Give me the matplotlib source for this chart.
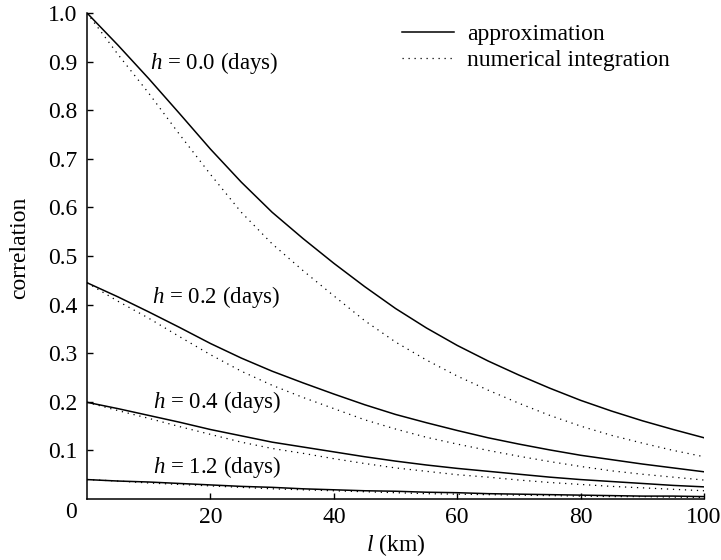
import matplotlib
matplotlib.use("Agg")
import matplotlib.pyplot as plt

plt.rcParams["font.family"] = ["Liberation Serif", "DejaVu Serif"]
plt.rcParams["mathtext.fontset"] = "custom"
plt.rcParams["mathtext.rm"] = "Liberation Serif"
plt.rcParams["mathtext.it"] = "Liberation Serif:italic"

# distance l (km)
dist = [0, 5, 10, 15, 20, 25, 30, 35, 40, 45, 50,
        55, 60, 65, 70, 75, 80, 85, 90, 95, 100]

# approximation (solid)
approx_h00 = [1.000, 0.934, 0.865, 0.793, 0.720, 0.652, 0.590, 0.536, 0.485, 0.437, 0.392,
              0.352, 0.316, 0.284, 0.255, 0.228, 0.203, 0.181, 0.161, 0.143, 0.126]
approx_h02 = [0.445, 0.416, 0.385, 0.353, 0.320, 0.290, 0.263, 0.239, 0.216, 0.194, 0.174,
              0.157, 0.141, 0.126, 0.113, 0.101, 0.090, 0.081, 0.072, 0.064, 0.056]
approx_h04 = [0.199, 0.186, 0.172, 0.158, 0.143, 0.130, 0.117, 0.107, 0.097, 0.087, 0.078,
              0.070, 0.063, 0.057, 0.051, 0.045, 0.040, 0.036, 0.032, 0.028, 0.025]
approx_h12 = [0.040, 0.037, 0.035, 0.032, 0.029, 0.026, 0.024, 0.021, 0.019, 0.017, 0.016,
              0.014, 0.013, 0.011, 0.010, 0.009, 0.008, 0.007, 0.006, 0.006, 0.005]

# numerical integration (dotted)
numint_h00 = [1.000, 0.915, 0.835, 0.750, 0.668, 0.590, 0.525, 0.470, 0.418, 0.367, 0.323,
              0.286, 0.253, 0.224, 0.197, 0.172, 0.150, 0.131, 0.115, 0.100, 0.087]
numint_h02 = [0.445, 0.407, 0.372, 0.334, 0.297, 0.263, 0.234, 0.209, 0.186, 0.163, 0.144,
              0.127, 0.113, 0.100, 0.088, 0.077, 0.067, 0.058, 0.051, 0.045, 0.039]
numint_h04 = [0.199, 0.182, 0.166, 0.149, 0.133, 0.117, 0.104, 0.094, 0.083, 0.073, 0.064,
              0.057, 0.050, 0.045, 0.039, 0.034, 0.030, 0.026, 0.023, 0.020, 0.017]
numint_h12 = [0.040, 0.037, 0.033, 0.030, 0.027, 0.024, 0.021, 0.019, 0.017, 0.015, 0.013,
              0.011, 0.010, 0.009, 0.008, 0.007, 0.006, 0.005, 0.005, 0.004, 0.003]

h_labels = ["0.0", "0.2", "0.4", "1.2"]
label_pos = [(10.2, 0.897), (10.5, 0.416), (10.7, 0.200), (10.7, 0.065)]

xticks = [20, 40, 60, 80, 100]
yticks = [0.1, 0.2, 0.3, 0.4, 0.5, 0.6, 0.7, 0.8, 0.9, 1.0]

FS = 17
dot_style = (0, (1, 3.8))

fig = plt.figure(figsize=(7.21, 5.60), dpi=100)
ax = fig.add_axes([0.1207, 0.1089, 0.8558, 0.8679])

approx = [approx_h00, approx_h02, approx_h04, approx_h12]
numint = [numint_h00, numint_h02, numint_h04, numint_h12]
for i, (a, n) in enumerate(zip(approx, numint)):
    ax.plot(dist, a, color="black", lw=1.1,
            label="approximation" if i == 0 else None)
    ax.plot(dist, n, color="black", lw=0.9, ls=dot_style,
            label="numerical integration" if i == 0 else None)

for h, (x, y) in zip(h_labels, label_pos):
    ax.text(x, y, f"$h$ = {h} (days)", fontsize=FS - 0.5, ha="left", va="center")

ax.set_xlim(0, 100)
ax.set_ylim(0, 1.0)
ax.spines["top"].set_visible(False)
ax.spines["right"].set_visible(False)
ax.spines["left"].set_linewidth(1.1)
ax.spines["bottom"].set_linewidth(1.1)

ax.set_xticks(xticks)
ax.set_yticks(yticks)
ax.set_yticklabels([f"{v:.1f}" for v in yticks])
ax.tick_params(direction="in", length=4, width=1.0, labelsize=FS)
ax.tick_params(axis="y", pad=7)
ax.tick_params(axis="x", pad=6)
ax.annotate("0", xy=(0, 0), xytext=(-7.2, -9.4), textcoords="offset points",
            ha="right", va="center", fontsize=FS)

ax.set_xlabel("$l$ (km)", fontsize=FS)
ax.set_ylabel("correlation", fontsize=FS)
ax.xaxis.set_label_coords(0.5, -0.068)
ax.yaxis.set_label_coords(-0.092, 0.516)

ax.legend(loc="upper left", bbox_to_anchor=(0.51, 0.978), frameon=False,
          fontsize=FS, handlelength=2.2, handletextpad=0.55,
          labelspacing=0.2, borderpad=0, borderaxespad=0)

fig.savefig("out.png", dpi=100)
